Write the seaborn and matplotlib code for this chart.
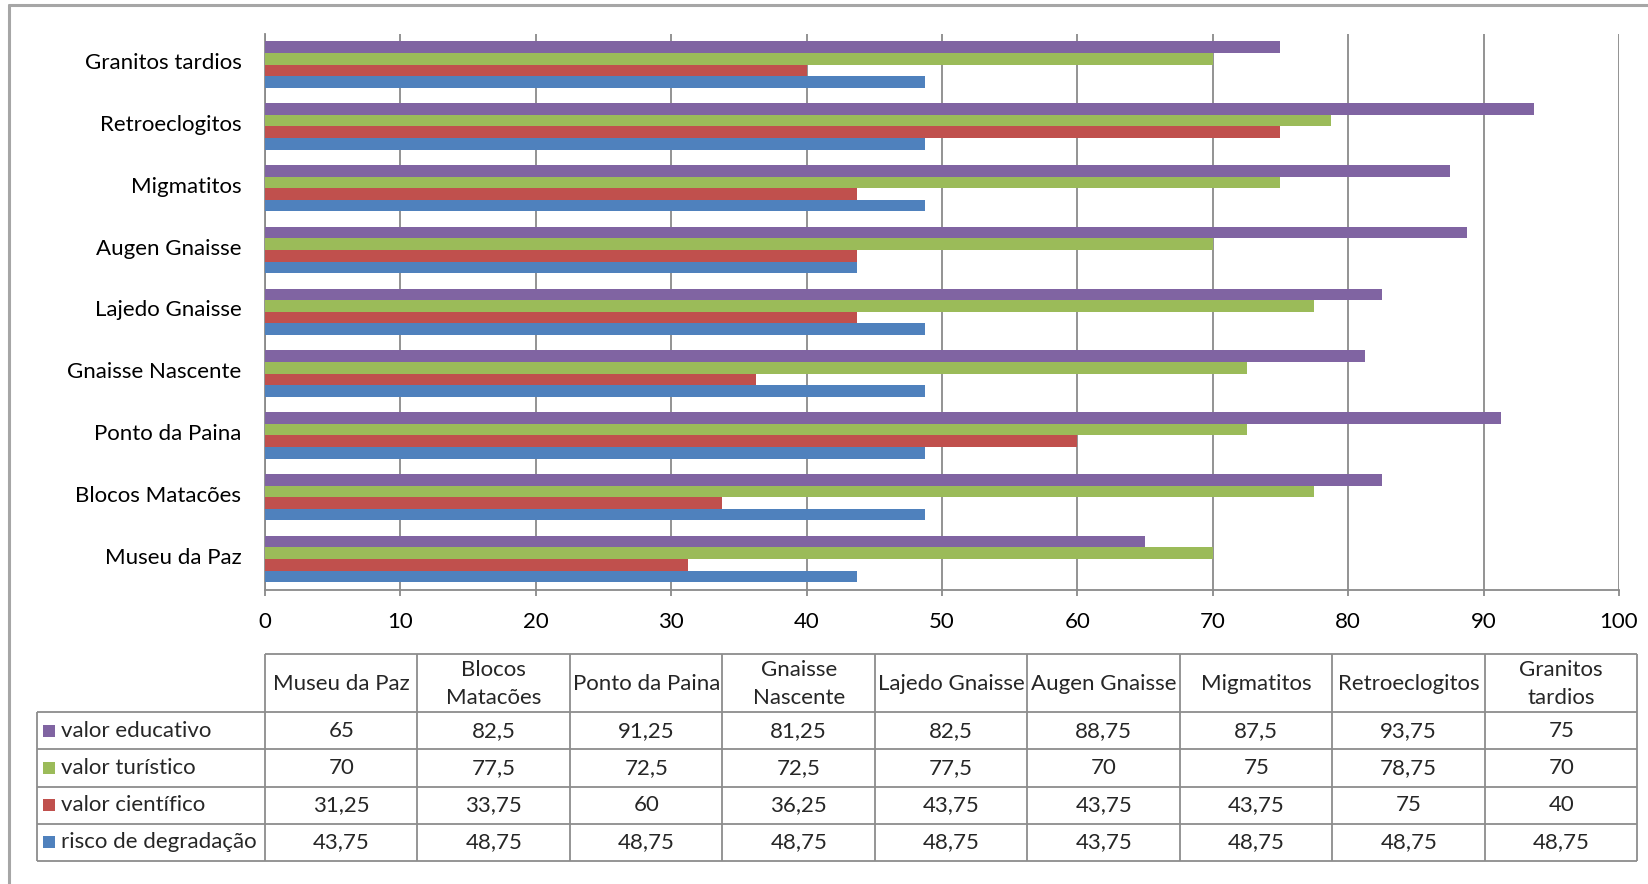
import matplotlib
matplotlib.use("Agg")
import matplotlib.pyplot as plt
import matplotlib.transforms as mtransforms
import seaborn as sns
import pandas as pd
from matplotlib.patches import Rectangle
from matplotlib.lines import Line2D

# ---- data ----
sites = ["Museu da Paz", "Blocos Matacões", "Ponto da Paina", "Gnaisse Nascente",
         "Lajedo Gnaisse", "Augen Gnaisse", "Migmatitos", "Retroeclogitos",
         "Granitos tardios"]
header_labels = ["Museu da Paz", "Blocos\nMatacões", "Ponto da Paina", "Gnaisse\nNascente",
                 "Lajedo Gnaisse", "Augen Gnaisse", "Migmatitos", "Retroeclogitos",
                 "Granitos\ntardios"]
series = ["valor educativo", "valor turístico", "valor científico", "risco de degradação"]
valor_educativo = [65, 82.5, 91.25, 81.25, 82.5, 88.75, 87.5, 93.75, 75]
valor_turistico = [70, 77.5, 72.5, 72.5, 77.5, 70, 75, 78.75, 70]
valor_cientifico = [31.25, 33.75, 60, 36.25, 43.75, 43.75, 43.75, 75, 40]
risco_degradacao = [43.75, 48.75, 48.75, 48.75, 48.75, 43.75, 48.75, 48.75, 48.75]
x_ticks = [0, 10, 20, 30, 40, 50, 60, 70, 80, 90, 100]

colors = {"valor educativo": "#8064A2", "valor turístico": "#9BBB59",
          "valor científico": "#C0504D", "risco de degradação": "#4F81BD"}

values = [valor_educativo, valor_turistico, valor_cientifico, risco_degradacao]
rows = []
for s, vals in zip(series, values):
    for site, v in zip(sites, vals):
        rows.append({"site": site, "serie": s, "valor": v})
df = pd.DataFrame(rows)

def fmt(v):
    return (f"{v:g}").replace(".", ",")

# ---- figure ----
W, H = 1649, 884
sns.set_theme(style="white")
plt.rcParams["font.family"] = ["Lato", "DejaVu Sans"]
fs = 16
fig = plt.figure(figsize=(W / 100, H / 100), dpi=100)

def px_axes(x0, y0, x1, y1):
    return fig.add_axes([x0 / W, 1 - y1 / H, (x1 - x0) / W, (y1 - y0) / H])

ax = px_axes(265, 33.6, 1619, 590)
sns.barplot(data=df, y="site", x="valor", hue="serie", order=sites[::-1],
            hue_order=series, palette=colors, orient="h", width=0.75,
            saturation=1, edgecolor="none", legend=False, ax=ax, zorder=3)

ax.set_xlim(0, 100)
ax.set_xticks(x_ticks)
ax.set_xlabel("")
ax.set_ylabel("")
ax.grid(axis="x", color="#8a8a8a", linewidth=1.3, zorder=0)
ax.set_axisbelow(True)
for side in ["top", "right"]:
    ax.spines[side].set_visible(False)
for side in ["left", "bottom"]:
    ax.spines[side].set_color("#8a8a8a")
    ax.spines[side].set_linewidth(1.3)
ax.tick_params(axis="x", length=4, width=1.3, color="#8a8a8a", pad=12,
               labelsize=fs, labelcolor="black", direction="out", bottom=True)
ax.tick_params(axis="y", length=0, pad=17, labelsize=fs, labelcolor="black")
# nudge category labels up slightly
shift = mtransforms.ScaledTranslation(0, 2.5 / 72, fig.dpi_scale_trans)
for lab in ax.get_yticklabels():
    lab.set_transform(lab.get_transform() + shift)

# ---- data table below the chart ----
tab = px_axes(0, 0, W, H)
tab.set_xlim(0, W)
tab.set_ylim(H, 0)
tab.axis("off")

line_c = "#8c8c8c"
lw = 1.3
col0 = 265.0
colw = 152.5
ncol = len(sites)
left = 36.8
head_top, head_bot = 654.0, 712.0
row_h = 37.25
row_y = [head_bot + i * row_h for i in range(len(series) + 1)]
right = col0 + ncol * colw

tab.hlines(head_top, col0, right, color=line_c, lw=lw)
for y in row_y:
    tab.hlines(y, left, right, color=line_c, lw=lw)
tab.vlines(left, row_y[0], row_y[-1], color=line_c, lw=lw)
for i in range(ncol + 1):
    tab.vlines(col0 + i * colw, head_top, row_y[-1], color=line_c, lw=lw)

for i, lab in enumerate(header_labels):
    tab.text(col0 + (i + 0.5) * colw, (head_top + head_bot) / 2 + 1, lab,
             ha="center", va="center", fontsize=fs, linespacing=1.45)

for r, (s, vals) in enumerate(zip(series, values)):
    yc = (row_y[r] + row_y[r + 1]) / 2
    tab.add_patch(Rectangle((43, yc - 6), 12, 12, color=colors[s], lw=0))
    tab.text(61, yc, s, ha="left", va="center", fontsize=fs)
    for i, v in enumerate(vals):
        tab.text(col0 + (i + 0.5) * colw, yc, fmt(v), ha="center", va="center",
                 fontsize=fs)

# chart area frame
tab.add_line(Line2D([9.5, 9.5], [4.8, H], color="#a6a6a6", lw=2.2))
tab.add_line(Line2D([9.5, W], [4.8, 4.8], color="#a6a6a6", lw=2.2))

fig.savefig("out.png", dpi=100)
